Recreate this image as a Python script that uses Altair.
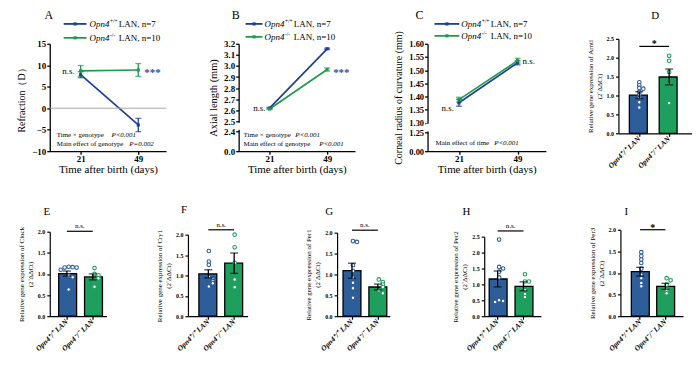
import altair as alt
import pandas as pd

FONT = "Liberation Serif"
LINE_BLUE = "#1d3f8f"
LINE_GREEN = "#1f9a4c"
STAR_BLUE = "#2a4fa3"
BAR_BLUE = "#2e5e9a"
BAR_GREEN = "#1f9f5e"

# ---------------- data ----------------
days = [21, 49]

refraction_wt = [7.8, -3.9]
refraction_wt_sem = [0.7, 1.55]
refraction_ko = [8.7, 8.9]
refraction_ko_sem = [1.25, 1.5]

axial_wt = [2.62, 3.155]
axial_wt_sem = [0.006, 0.006]
axial_ko = [2.612, 2.968]
axial_ko_sem = [0.006, 0.014]

corneal_wt = [1.376, 1.528]
corneal_wt_sem = [0.013, 0.008]
corneal_ko = [1.388, 1.536]
corneal_ko_sem = [0.009, 0.009]

legend_signs = ["+/+", "-/-"]
legend_n = ["7", "10"]

bar_groups = ["Opn4⁺/⁺ LAN", "Opn4⁻/⁻ LAN"]

arntl_mean = [1.01, 1.49]
arntl_sem = [0.09, 0.21]
arntl_wt = [1.35, 1.27, 1.20, 1.18, 1.09, 1.02, 0.94, 0.82, 0.68]
arntl_ko = [2.05, 1.92, 1.62, 1.30, 0.80]

clock_mean = [1.01, 0.93]
clock_sem = [0.06, 0.07]
clock_wt = [1.17, 1.16, 1.15, 1.15, 1.10, 0.96, 0.92, 0.63]
clock_ko = [1.14, 1.00, 0.97, 0.90, 0.70]

cry1_mean = [1.04, 1.30]
cry1_sem = [0.10, 0.25]
cry1_wt = [1.60, 1.34, 1.26, 0.96, 0.90, 0.86, 0.81, 0.73]
cry1_ko = [2.00, 1.69, 1.31, 0.90, 0.71]

per1_mean = [1.09, 0.70]
per1_sem = [0.18, 0.07]
per1_wt = [1.80, 1.78, 1.22, 1.08, 0.92, 0.80, 0.67, 0.44]
per1_ko = [0.88, 0.82, 0.76, 0.70, 0.62, 0.55]

per2_mean = [1.17, 0.94]
per2_sem = [0.25, 0.14]
per2_wt = [2.41, 1.55, 1.50, 1.40, 1.22, 0.50, 0.48, 0.45]
per2_ko = [1.32, 1.09, 1.09, 0.82, 0.70, 0.60]

per3_mean = [1.03, 0.69]
per3_sem = [0.10, 0.07]
per3_wt = [1.48, 1.39, 1.31, 1.23, 1.10, 0.96, 0.88, 0.77, 0.69]
per3_ko = [0.88, 0.83, 0.73, 0.61, 0.53]

ONE = pd.DataFrame({"k": [0]})


def txt(s, x, y, size, align="left", baseline="middle", color="black",
        style="normal", weight="normal"):
    return alt.Chart(ONE).mark_text(
        text=s, font=FONT, fontSize=size, align=align, baseline=baseline,
        color=color, fontStyle=style, fontWeight=weight
    ).encode(x=alt.value(x), y=alt.value(y))


def legend_layers(x0, x1, tx, ys):
    out = []
    for color, sign, n, y in zip([LINE_BLUE, LINE_GREEN], legend_signs, legend_n, ys):
        out.append(alt.Chart(ONE).mark_rule(color=color, strokeWidth=1.8).encode(
            x=alt.value(x0), x2=alt.value(x1), y=alt.value(y)))
        out.append(alt.Chart(ONE).mark_point(color=color, filled=True, shape="square",
                                             size=10, opacity=1).encode(
            x=alt.value((x0 + x1) / 2), y=alt.value(y)))
        out.append(txt("Opn4", tx, y, 9, style="italic"))
        out.append(txt(sign, tx + 20.5, y - 3, 5.5))
        out.append(txt("LAN, n=" + n, tx + 29.5, y, 9))
    return out


def line_panel(letter, letter_dx, wt, wt_sem, ko, ko_sem, y_domain, y_range,
               y_ticks, y_fmt, y_title, y_title_size, y_label_size, width, leg, labels,
               notes, brk=None, zero=False):
    rows = []
    for key, vals, sems in (("wt", wt, wt_sem), ("ko", ko, ko_sem)):
        for d, v, s in zip(days, vals, sems):
            rows.append({"day": d, "val": v, "lo": v - s, "hi": v + s, "grp": key})
    df = pd.DataFrame(rows)
    xs = alt.Scale(domain=[6, 62.5], nice=False, zero=False)
    ys = alt.Scale(domain=y_domain, range=y_range, nice=False, zero=False)
    xax = alt.Axis(values=days, format="d", title="Time after birth (days)",
                   labelFont=FONT, labelFontWeight="bold", labelFontSize=9,
                   titleFont=FONT, titleFontSize=11, titleFontWeight="normal",
                   tickSize=3, labelPadding=0, titlePadding=0, labelOverlap=False,
                   tickCount=10, domainWidth=1.3, tickWidth=1.3)
    yax = alt.Axis(values=y_ticks, format=y_fmt, title=y_title,
                   labelFont=FONT, labelFontWeight="bold", labelFontSize=y_label_size,
                   titleFont=FONT, titleFontSize=y_title_size, titleFontWeight="normal",
                   tickSize=3, labelPadding=1, titlePadding=5, labelOverlap=False,
                   tickCount=30, domainWidth=1.3, tickWidth=1.3)
    col = alt.Color("grp:N", scale=alt.Scale(domain=["wt", "ko"],
                                             range=[LINE_BLUE, LINE_GREEN]), legend=None)
    base = alt.Chart(df)
    layers = []
    layers.append(base.mark_line(strokeWidth=1.7).encode(
        x=alt.X("day:Q", scale=xs, axis=xax),
        y=alt.Y("val:Q", scale=ys, axis=yax), color=col))
    if zero:
        layers.append(alt.Chart(ONE).mark_rule(color="#a8a8a8", strokeWidth=1).encode(
            y=alt.datum(0)))
    layers.append(base.mark_rule(strokeWidth=1.3).encode(
        x=alt.X("day:Q", scale=xs), y=alt.Y("lo:Q", scale=ys), y2="hi:Q", color=col))
    for f in ("lo", "hi"):
        layers.append(base.mark_tick(orient="horizontal", size=6, thickness=1.3).encode(
            x=alt.X("day:Q", scale=xs), y=alt.Y(f + ":Q", scale=ys), color=col))
    layers.append(base.mark_point(filled=True, shape="square", size=10, opacity=1).encode(
        x=alt.X("day:Q", scale=xs), y=alt.Y("val:Q", scale=ys), color=col))
    if brk is not None:
        layers.append(alt.Chart(ONE).mark_rule(color="white", strokeWidth=4).encode(
            x=alt.value(0), y=alt.datum(brk[0]), y2=alt.datum(brk[1])))
    for s, xv, yv, al, dx, color, size, weight in labels:
        layers.append(alt.Chart(ONE).mark_text(
            text=s, font=FONT, fontSize=size, align=al, baseline="middle", dx=dx,
            color=color, fontWeight=weight).encode(x=alt.datum(xv), y=alt.datum(yv)))
    for s, x, y, style in notes:
        layers.append(txt(s, x, y, 7, style=style))
    layers += legend_layers(*leg)
    layers.append(txt(letter, letter_dx, -24, 12, align="center"))
    return alt.layer(*layers).properties(width=width, height=113)


def slots(vals):
    order = [0, 1, -1, 2, -2]
    out, placed = [], []
    for v in vals:
        k = sum(1 for p in placed if abs(p - v) < 0.07)
        out.append(order[min(k, 4)])
        placed.append(v)
    return out


def bar_panel(letter, lpos, gene, mean, sem, wt_pts, ko_pts, top, sig_y, sig_txt,
              view_w, W, L, bw, step, H, r_top):
    pi = 1 - bw / step
    outer = W - step * (2 - pi)
    po = outer / (2 * step)
    al = L / outer
    c1 = L + bw / 2
    c2 = L + step + bw / 2
    bars = pd.DataFrame({
        "geno": bar_groups, "key": ["wt", "ko"], "mean": mean,
        "lo": [m - s for m, s in zip(mean, sem)],
        "hi": [m + s for m, s in zip(mean, sem)]})
    pts = pd.DataFrame({
        "geno": [bar_groups[0]] * len(wt_pts) + [bar_groups[1]] * len(ko_pts),
        "key": ["wt"] * len(wt_pts) + ["ko"] * len(ko_pts),
        "val": wt_pts + ko_pts,
        "slot": slots(wt_pts) + slots(ko_pts)})
    xs = alt.Scale(domain=bar_groups, range=[0, W], paddingInner=pi,
                   paddingOuter=po, align=al)
    ys = alt.Scale(domain=[0, top], range=[H, r_top], nice=False, zero=False)
    ticks = [i * 0.5 for i in range(int(round(top / 0.5)) + 1)]
    xax = alt.Axis(title=None, labelAngle=-45, labelAlign="right", labelBaseline="middle",
                   labelFont=FONT, labelFontWeight="bold", labelFontStyle="italic",
                   labelFontSize=7.5, tickSize=3, labelPadding=1, domainWidth=1.3,
                   tickWidth=1.2, labelOverlap=False)
    yax = alt.Axis(values=ticks, format=".1f",
                   title=["Relative gene expression of " + gene, "(2⁻ΔΔCt)"],
                   labelFont=FONT, labelFontWeight="bold", labelFontSize=6,
                   titleFont=FONT, titleFontSize=7, titleFontWeight="normal",
                   titlePadding=4, tickSize=3, labelPadding=2, domainWidth=1.2,
                   tickWidth=1.2, labelOverlap=False, tickCount=20)
    fill_scale = alt.Scale(domain=["wt", "ko"], range=[BAR_BLUE, BAR_GREEN])
    X = alt.X("geno:N", scale=xs, axis=xax, sort=bar_groups)
    layers = [
        alt.Chart(bars).mark_bar(stroke="black", strokeWidth=1.3).encode(
            x=X, y=alt.Y("mean:Q", scale=ys, axis=yax),
            fill=alt.Fill("key:N", scale=fill_scale, legend=None)),
        alt.Chart(pts).mark_point(shape="circle", filled=True, fill="white",
                                  strokeWidth=1.1, size=13, opacity=1).encode(
            x=alt.X("geno:N", scale=xs, sort=bar_groups),
            xOffset=alt.XOffset("slot:N", scale=alt.Scale(domain=[-2, -1, 0, 1, 2])),
            y=alt.Y("val:Q", scale=ys),
            stroke=alt.Stroke("key:N", scale=fill_scale, legend=None)),
        alt.Chart(bars).mark_rule(color="black", strokeWidth=1.3).encode(
            x=alt.X("geno:N", scale=xs, sort=bar_groups),
            y=alt.Y("lo:Q", scale=ys), y2="hi:Q"),
    ]
    for f in ("lo", "hi"):
        layers.append(alt.Chart(bars).mark_tick(orient="horizontal", color="black",
                                                size=8, thickness=1.3).encode(
            x=alt.X("geno:N", scale=xs, sort=bar_groups), y=alt.Y(f + ":Q", scale=ys)))
    layers.append(alt.Chart(ONE).mark_rule(color="black", strokeWidth=1.2).encode(
        x=alt.value(c1), x2=alt.value(c2), y=alt.datum(sig_y)))
    layers.append(alt.Chart(ONE).mark_text(
        text=sig_txt, font=FONT, fontSize=7 if sig_txt == "n.s." else 10,
        baseline="bottom", align="center", dy=-2 if sig_txt == "n.s." else 3,
        fontWeight="normal" if sig_txt == "n.s." else "bold").encode(
        x=alt.value((c1 + c2) / 2), y=alt.datum(sig_y)))
    layers.append(txt(letter, lpos[0], lpos[1], 11, align="center"))
    return alt.layer(*layers).properties(width=view_w, height=H)


# ---------------- panels ----------------
A = line_panel(
    "A", -1, refraction_wt, refraction_wt_sem, refraction_ko, refraction_ko_sem,
    [-10, 15], [113, 5], [-10, -5, 0, 5, 10, 15], "d", "Refraction（D）", 10, 9, 117,
    (14, 37, 40, [-15, -1]),
    [("n.s.", 21, 8.6, "right", -6, "black", 9, "normal"),
     ("***", 49, 8.2, "left", 6, STAR_BLUE, 11, "bold")],
    [("Time × genotype", 7, 97, "normal"), ("P<0.001", 62, 97, "italic"),
     ("Main effect of genotype", 7, 106, "normal"), ("P=0.002", 80, 106, "italic")],
    zero=True)

B = line_panel(
    "B", -3, axial_wt, axial_wt_sem, axial_ko, axial_ko_sem,
    [0, 2.4, 2.5, 3.2], [113, 93, 83, 5],
    [0, 2.4, 2.5, 2.6, 2.7, 2.8, 2.9, 3.0, 3.1, 3.2], ".1f", "Axial length (mm)", 10.5, 9,
    117,
    (7, 24, 26, [-15, -2]),
    [("n.s.", 21, 2.62, "right", -4, "black", 9, "normal"),
     ("***", 49, 2.935, "left", 6, STAR_BLUE, 11, "bold")],
    [("Time × genotype", 5, 97, "normal"), ("P<0.001", 57, 97, "italic"),
     ("Main effect of genotype", 5, 106, "normal"), ("P<0.001", 81, 106, "italic")],
    brk=(2.415, 2.485))

C = line_panel(
    "C", -8, corneal_wt, corneal_wt_sem, corneal_ko, corneal_ko_sem,
    [0, 1.25, 1.30, 1.60], [113, 94, 84.5, 5],
    [0, 1.25, 1.30, 1.35, 1.40, 1.45, 1.50, 1.55, 1.60], ".2f",
    "Corneal radius of curvature (mm)", 10, 8.5, 119,
    (7, 32, 34, [-15, -3]),
    [("n.s.", 21, 1.357, "right", -5, "black", 9, "normal"),
     ("n.s.", 49, 1.536, "left", 5, "black", 9, "normal")],
    [("Main effect of time", 8, 105, "normal"), ("P<0.001", 67, 105, "italic")],
    brk=(1.2545, 1.2955))

D = bar_panel("D", (37, -23), "Arntl", arntl_mean, arntl_sem, arntl_wt, arntl_ko,
              2.5, 2.3, "*", 74, 74, 11, 20, 30, 95, 0)
E = bar_panel("E", (-3, -17), "Clock", clock_mean, clock_sem, clock_wt, clock_ko,
              2.0, 2.01, "n.s.", 59, 57, 9, 16.5, 26, 88, 3)
F = bar_panel("F", (-4, -19), "Cry1", cry1_mean, cry1_sem, cry1_wt, cry1_ko,
              2.0, 2.12, "n.s.", 70, 60, 11, 19, 26, 88, 6)
G = bar_panel("G", (-8, -17), "Per1", per1_mean, per1_sem, per1_wt, per1_ko,
              2.0, 2.06, "n.s.", 68, 53, 6, 18, 26, 88, 4)
H = bar_panel("H", (-18, -17), "Per2", per2_mean, per2_sem, per2_wt, per2_ko,
              2.5, 2.68, "n.s.", 57, 57, 5, 17, 26, 88, 8)
I = bar_panel("I", (6, -17), "Per3", per3_mean, per3_sem, per3_wt, per3_ko,
              2.0, 2.0, "*", 63, 63, 11, 17.5, 25.5, 88, 1)

top_row = alt.hconcat(A, B, C, D, spacing=73, bounds="flush")
bottom_row = alt.hconcat(E, F, G, H, I, spacing=80, bounds="flush")

chart = alt.vconcat(top_row, bottom_row, spacing=30).properties(
    padding={"left": 8, "top": 0, "right": 0, "bottom": 0},
    background="white",
).configure_view(stroke=None).configure_axis(
    grid=False, domainColor="black", tickColor="black",
    labelColor="black", titleColor="black", labelOverlap=False)

chart.save("out.html", embed_options={"renderer": "svg", "actions": False})
